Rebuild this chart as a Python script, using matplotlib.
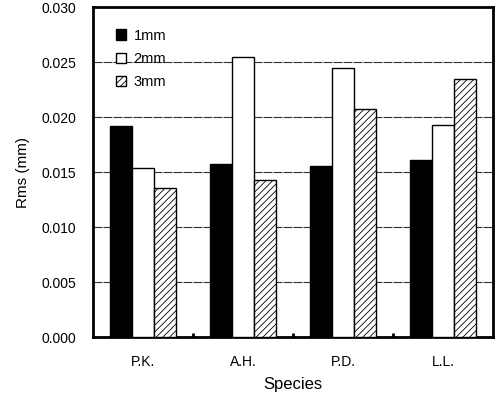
import matplotlib.pyplot as plt
import numpy as np

plt.rcParams['font.family'] = ['Liberation Sans', 'DejaVu Sans']
plt.rcParams['hatch.linewidth'] = 0.6

species = ['P.K.', 'A.H.', 'P.D.', 'L.L.']
labels = ['1mm', '2mm', '3mm']
rms_1mm = [0.0192, 0.0157, 0.0156, 0.0161]
rms_2mm = [0.0154, 0.0255, 0.0245, 0.0193]
rms_3mm = [0.0136, 0.0143, 0.0207, 0.0235]

fig = plt.figure(figsize=(4.98, 3.98), dpi=100)
ax = fig.add_axes([0.187, 0.153, 0.803, 0.829])

x = np.arange(len(species))
w = 0.22
ax.bar(x - w, rms_1mm, w, color='black', edgecolor='black', linewidth=1, label=labels[0], zorder=3)
ax.bar(x, rms_2mm, w, color='white', edgecolor='black', linewidth=1, label=labels[1], zorder=3)
ax.bar(x + w, rms_3mm, w, color='white', edgecolor='black', linewidth=1, hatch='/////', label=labels[2], zorder=3)

ax.set_xlim(-0.5, 3.5)
ax.set_ylim(0, 0.030)
ticks = np.arange(0, 0.0301, 0.005)
ax.set_yticks(ticks)
ax.set_yticklabels(['%.3f' % v for v in ticks])
ax.set_xticks(x)
ax.set_xticklabels(species)
ax.set_xticks([0.5, 1.5, 2.5], minor=True)
ax.tick_params(axis='x', which='major', length=0, pad=13, labelsize=10)
ax.tick_params(axis='x', which='minor', direction='in', length=3, width=2)
ax.tick_params(axis='y', length=0, pad=12, labelsize=10)
ax.yaxis.grid(True, color='#333333', linestyle=(0, (8, 1)), linewidth=0.8, zorder=0)

for s in ax.spines.values():
    s.set_linewidth(2)

ax.set_xlabel('Species', fontsize=12, labelpad=6)
ax.set_ylabel('Rms (mm)', fontsize=11, labelpad=8)

ax.legend(loc='upper left', frameon=False, fontsize=10.5, handlelength=0.7, handleheight=0.7,
          handletextpad=0.5, labelspacing=0.65, bbox_to_anchor=(0.025, 0.975))

fig.savefig('out.png', dpi=100)
